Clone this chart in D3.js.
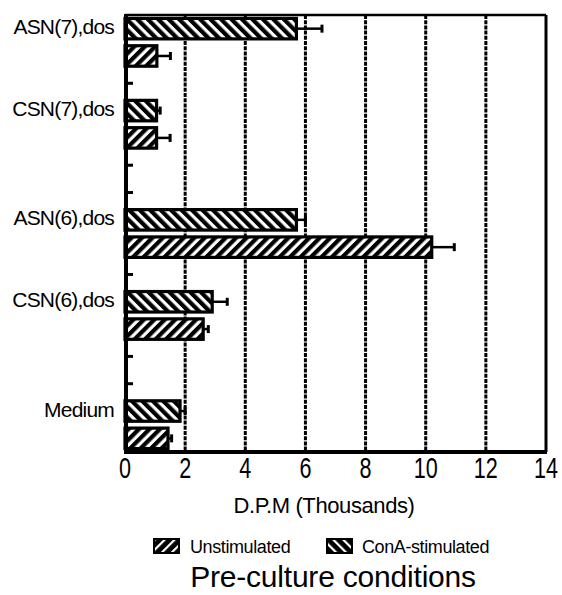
<!DOCTYPE html>
<html>
<head>
<meta charset="utf-8">
<script src="https://cdn.jsdelivr.net/npm/d3@7/dist/d3.min.js"></script>
<style>
  html, body { margin: 0; padding: 0; background: #fff; }
  svg { display: block; }
  text { font-family: "Liberation Sans", Arial, sans-serif; fill: #000; }
</style>
</head>
<body>
<script>
// ---- data ----
const categories = ["ASN(7),dos", "CSN(7),dos", "ASN(6),dos", "CSN(6),dos", "Medium"];
const gapsAfter = [1, 2, 1, 2, 0]; // empty rows following each category
const series = ["ConA-stimulated", "Unstimulated"];
const conaValues = [5.7, 1.05, 5.7, 2.9, 1.83];
const conaErrors = [0.85, 0.12, 0.3, 0.5, 0.17];
const unstimValues = [1.06, 1.05, 10.2, 2.6, 1.43];
const unstimErrors = [0.45, 0.45, 0.75, 0.17, 0.12];
const xTicks = [0, 2, 4, 6, 8, 10, 12, 14];
const xLabel = "D.P.M (Thousands)";
const legendLabels = ["Unstimulated", "ConA-stimulated"];
const title = "Pre-culture conditions";

(function () {
// ---- layout ----
const W = 562, H = 595;
const svg = d3.select("body").append("svg").attr("width", W).attr("height", H);

const pLeft = 125, pRight = 546, pTop = 15, pBottom = 452;

// row slots: for each category two bar rows, then empty rows
const rows = [];
categories.forEach((c, i) => {
  rows.push({ key: c + "|0", cat: i, s: 0 });
  rows.push({ key: c + "|1", cat: i, s: 1 });
  for (let g = 0; g < gapsAfter[i]; g++) rows.push({ key: c + "|gap" + g, cat: i, s: -1 });
});

const x = d3.scaleLinear().domain([0, 14]).range([pLeft, pRight]);
const y = d3.scaleBand().domain(rows.map(r => r.key)).range([pTop, pBottom])
  .paddingInner(0.25).paddingOuter(0.125);

// ---- patterns ----
const defs = svg.append("defs");
function hatch(id, angle, bg, fg, w, sw) {
  const p = defs.append("pattern").attr("id", id).attr("patternUnits", "userSpaceOnUse")
    .attr("width", w).attr("height", w).attr("patternTransform", `rotate(${angle})`);
  p.append("rect").attr("width", w).attr("height", w).attr("fill", bg);
  p.append("rect").attr("width", sw).attr("height", w).attr("fill", fg);
}
hatch("fwd", 45, "#fff", "#000", 7.4, 4.2);
hatch("bwd", -45, "#fff", "#000", 7.4, 4.2);
hatch("fwdL", 45, "#000", "#fff", 7, 2.2);
hatch("bwdL", -45, "#000", "#fff", 7, 2.2);

// ---- grid ----
svg.append("g").selectAll("line").data(xTicks.filter(t => t > 0 && t < 14)).join("line")
  .attr("x1", d => x(d)).attr("x2", d => x(d)).attr("y1", pTop).attr("y2", pBottom)
  .attr("stroke", "#000").attr("stroke-width", 3).attr("stroke-dasharray", "4,1.2");

// frame: top and right
svg.append("line").attr("x1", x(0)).attr("x2", x(14)).attr("y1", pTop).attr("y2", pTop)
  .attr("stroke", "#000").attr("stroke-width", 2.5);
svg.append("line").attr("x1", x(14)).attr("x2", x(14)).attr("y1", pTop).attr("y2", pBottom)
  .attr("stroke", "#000").attr("stroke-width", 3);

// ---- bars ----
const barData = [];
categories.forEach((c, i) => {
  barData.push({ key: c + "|0", v: conaValues[i], e: conaErrors[i], fill: "url(#bwd)" });
  barData.push({ key: c + "|1", v: unstimValues[i], e: unstimErrors[i], fill: "url(#fwd)" });
});

const bars = svg.append("g");
bars.selectAll("rect").data(barData).join("rect")
  .attr("x", x(0)).attr("y", d => y(d.key))
  .attr("width", d => x(d.v) - x(0)).attr("height", y.bandwidth())
  .attr("fill", d => d.fill).attr("stroke", "#000").attr("stroke-width", 3.2);

// error bars
const eb = svg.append("g").attr("stroke", "#000").attr("stroke-width", 2.5);
eb.selectAll("line.h").data(barData).join("line").attr("class", "h")
  .attr("x1", d => x(d.v)).attr("x2", d => x(d.v + d.e))
  .attr("y1", d => y(d.key) + y.bandwidth() / 2).attr("y2", d => y(d.key) + y.bandwidth() / 2);
eb.selectAll("line.c").data(barData).join("line").attr("class", "c")
  .attr("x1", d => x(d.v + d.e)).attr("x2", d => x(d.v + d.e))
  .attr("y1", d => y(d.key) + y.bandwidth() / 2 - 4).attr("y2", d => y(d.key) + y.bandwidth() / 2 + 4)
  .attr("stroke-width", 3);

// ---- axes ----
svg.append("line").attr("x1", x(0) + 1).attr("x2", x(0) + 1).attr("y1", pTop - 1).attr("y2", pBottom + 2)
  .attr("stroke", "#000").attr("stroke-width", 4);
svg.append("g").selectAll("line").data(rows.filter(r => r.s === -1)).join("line")
  .attr("x1", x(0)).attr("x2", x(0) + 8)
  .attr("y1", d => y(d.key) + y.bandwidth() / 2).attr("y2", d => y(d.key) + y.bandwidth() / 2)
  .attr("stroke", "#000").attr("stroke-width", 3);

svg.append("line").attr("x1", x(0) - 1).attr("x2", x(14) + 1).attr("y1", pBottom).attr("y2", pBottom)
  .attr("stroke", "#000").attr("stroke-width", 4);
svg.append("g").selectAll("text").data(xTicks).join("text")
  .attr("transform", d => `translate(${x(d)},478) scale(0.72,1)`)
  .attr("text-anchor", "middle").style("font-family", "'Liberation Sans Narrow', 'Liberation Sans', sans-serif")
  .style("font-size", "30px").text(d => d);

// category labels
svg.append("g").selectAll("text").data(categories).join("text")
  .attr("x", 114).attr("y", d => y(d + "|0") + y.bandwidth() / 2 - 2)
  .attr("text-anchor", "end").attr("dominant-baseline", "central")
  .style("font-size", "21px").style("letter-spacing", "-0.8px").text(d => d);

// x label
svg.append("text").attr("x", 324).attr("y", 513).attr("text-anchor", "middle")
  .style("font-family", "'Liberation Sans Narrow', 'Liberation Sans', sans-serif")
  .style("font-size", "22px").style("letter-spacing", "-0.4px").text(xLabel);

// legend
const lg = svg.append("g");
const legendItems = [
  { label: legendLabels[0], fill: "url(#fwdL)", sx: 154, tx: 190 },
  { label: legendLabels[1], fill: "url(#bwdL)", sx: 327, tx: 362 }
];
lg.selectAll("rect").data(legendItems).join("rect")
  .attr("x", d => d.sx).attr("y", 539).attr("width", 25).attr("height", 14)
  .attr("fill", d => d.fill).attr("stroke", "#000").attr("stroke-width", 2);
lg.selectAll("text").data(legendItems).join("text")
  .attr("x", d => d.tx).attr("y", 553)
  .style("font-size", "18px").style("letter-spacing", "-0.4px").text(d => d.label);

// title
svg.append("text").attr("x", 333).attr("y", 587).attr("text-anchor", "middle")
  .style("font-size", "30px").style("letter-spacing", "-0.2px").text(title);
})();
</script>
</body>
</html>
